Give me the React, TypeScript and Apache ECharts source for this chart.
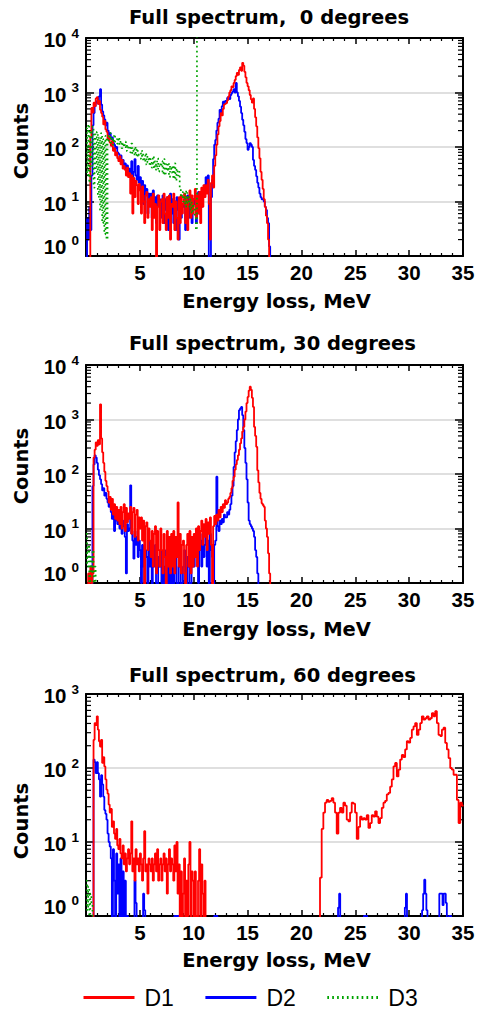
import React, { useEffect, useRef } from "react";
import * as echarts from "echarts";

// ---------------- data (counts per energy bin) ----------------
const BIN_WIDTH = 0.1; // MeV
const X_MIN = 0;
const X_MAX = 35;
const X_INTERVAL = 5;
const legendNames = ["D1", "D2", "D3"];
const panelTitles = [
  "Full spectrum,  0 degrees",
  "Full spectrum, 30 degrees",
  "Full spectrum, 60 degrees",
];
const yMaxValues = [10000, 10000, 1000];
const logMinorMultipliers = [2, 3, 4, 5, 6, 7, 8, 9];

// ---- panel 1 : 0 degrees ----
const p1D1Start = 0.3;
const p1D1 = [
  0, 150, 520, 430, 650, 560, 780,
  820, 620, 700, 480, 420, 360, 260, 300, 210, 190,
  140, 160, 120, 105, 130, 85, 95, 70, 80, 62,
  55, 68, 48, 58, 40, 45, 38, 30, 42, 28,
  33, 14, 30, 6, 27, 12, 24, 20, 9, 21,
  16, 6, 19, 10, 4, 13, 15, 5, 11, 8,
  12, 3, 14, 5, 9, 0, 8, 13, 3, 10,
  11, 4, 14, 6, 3, 12, 5, 13, 2, 9,
  8, 14, 3, 10, 5, 2, 12, 4, 13, 6,
  9, 14, 4, 12, 3, 10, 16, 5, 13, 6,
  11, 17, 5, 13, 6, 15, 4, 18, 8, 20,
  12, 20, 14, 25, 9, 2, 22, 30, 18, 45,
  70, 110, 170, 240, 300, 420, 380, 500, 600, 620,
  640, 720, 840, 1000, 1100, 1300, 1250, 1500, 1700, 2000,
  2300, 2100, 2600, 2900, 2500, 3500, 3100, 2400, 1900, 1500,
  1300, 1100, 900, 750, 650, 780, 500, 350, 240, 150,
  95, 62, 35, 25, 17, 11, 8, 5.5, 4, 2,
  0,
];
const p1D2Start = 0.0;
const p1D2 = [
  0, 5, 2, 8, 3, 30, 250, 420, 560, 650,
  700, 620, 850, 1150, 600, 450, 380, 320, 250, 280,
  200, 170, 180, 140, 150, 120, 110, 95, 100, 80,
  75, 60, 70, 52, 58, 45, 50, 40, 46, 35,
  40, 32, 55, 28, 35, 60, 30, 25, 45, 22,
  28, 12, 24, 9, 20, 13, 17, 6, 14, 10,
  14, 5, 16, 8, 12, 4, 13, 9, 11, 5,
  10, 13, 4, 11, 7, 12, 3, 9, 14, 6,
  11, 4, 10, 3, 12, 7, 2, 10, 5, 9,
  8, 11, 3, 10, 13, 5, 9, 12, 4, 11,
  9, 13, 4, 11, 15, 6, 12, 8, 14, 17,
  20, 28, 15, 30, 0, 0, 12, 25, 60, 110,
  135, 200, 280, 330, 480, 420, 560, 680, 620, 700,
  680, 800, 840, 760, 900, 980, 1050, 1150, 1000, 1500,
  1000, 850, 700, 550, 420, 316, 250, 190, 140, 118,
  89, 100, 118, 110, 100, 58, 45, 38, 29, 22,
  18, 14, 12, 11, 11, 10, 8, 7, 5, 4,
  1.5, 0,
];
const p1D3Start = 0.0;
const p1D3 = [
  220, 30, 260, 22, 200, 45, 240, 18, 170, 35,
  190, 12, 150, 7, 180, 4, 140, 2.5, 160, 2,
  160, 130, 180, 120, 150, 110, 170, 125, 140, 115,
  150, 110, 130, 95, 120, 100, 125, 85, 110, 90,
  105, 80, 115, 75, 95, 70, 100, 65, 85, 72,
  78, 60, 85, 55, 70, 48, 75, 52, 65, 45,
  60, 42, 68, 40, 55, 38, 62, 35, 50, 44,
  55, 32, 60, 30, 48, 36, 52, 28, 45, 34,
  46, 26, 50, 24, 40, 30, 35, 18, 12, 15,
  10, 14, 8, 16, 9, 12, 7, 11, 6, 9,
  8, 5, 3, 50000,
];

// ---- panel 2 : 30 degrees ----
const p2D1Start = 0.1;
const p2D1 = [
  0, 1.5, 1, 2, 1, 1.5, 200, 280, 380, 330,
  420, 350, 1900, 450, 250, 160, 110, 75, 60,
  48, 30, 38, 22, 35, 18, 28, 15, 25, 14,
  22, 12, 25, 10, 20, 28, 9, 24, 13, 19,
  15, 25, 8, 20, 24, 7, 18, 22, 6, 16,
  10, 16, 6, 14, 0, 11, 13, 4, 10, 6,
  3, 9, 2, 8, 11, 1.5, 9, 4, 2, 10,
  4, 1.5, 8, 3, 0, 9, 2, 7, 1.5, 8,
  2, 9, 1.5, 7, 3, 30, 2, 8, 1.5, 5,
  6, 1.5, 0, 5, 8, 2, 9, 1.5, 7, 2,
  8, 3, 10, 2, 11, 4, 9, 14, 5, 12,
  7, 15, 4, 13, 8, 16, 5, 0, 11, 17,
  12, 18, 14, 22, 16, 25, 20, 28, 24, 33,
  28, 30, 35, 38, 45, 55, 75, 89, 120, 150,
  180, 220, 280, 365, 450, 600, 730, 1000, 1400, 2000,
  2600, 3400, 4000, 3500, 2500, 1700, 730, 500, 315, 117,
  70, 45, 35, 29, 27, 25, 14, 10, 7, 3.5,
  1.5, 0,
];
const p2D2Start = 0.5;
const p2D2 = [
  0, 60, 150, 220, 200,
  160, 120, 95, 80, 65, 50, 55, 40, 45, 35,
  30, 25, 28, 20, 15, 22, 9, 18, 14, 12,
  16, 10, 13, 8, 11, 14, 7, 1.5, 12, 9,
  10, 62, 8, 6, 2.8, 9, 5, 7, 3, 6,
  4, 1, 5, 2, 0, 4, 3, 1, 6, 2,
  3, 0, 4, 2, 5, 1, 0, 3, 2, 4,
  1, 3, 0, 2, 4, 1, 3, 0, 2, 1,
  3, 0, 2, 4, 1, 0, 2, 3, 0, 1,
  2, 4, 1, 0, 3, 2, 0, 1, 3, 2,
  2, 5, 3, 7, 1, 4, 6, 2, 8, 3,
  5, 7, 2, 6, 0, 8, 4, 3, 0, 5,
  6, 89, 11, 9, 14, 12, 15, 13, 18, 16,
  16, 20, 18, 22, 28, 40, 60, 135, 250, 400,
  640, 1000, 1480, 1600, 1700, 1200, 640, 300, 160, 80,
  30, 14, 12, 11, 10, 9, 7, 4, 3, 1.5,
  0,
];
const p2D3Start = 0.0;
const p2D3 = [8, 2, 5, 1, 3, 1.5, 4, 1, 2, 0];

// ---- panel 3 : 60 degrees ----
const p3D1LowStart = 0.6;
const p3D1Low = [
  0, 240, 405, 380,
  500, 330, 230, 195, 240, 117, 140, 105, 70, 51,
  45, 32, 25, 28, 16, 19, 13, 11, 15, 9,
  8, 11, 7, 6, 9, 5, 7, 4, 6, 8,
  5, 7, 19, 4, 6, 3, 8, 5, 6, 4,
  7, 5, 3, 6, 14, 4, 5, 2, 6, 5,
  4, 6, 3, 5, 7, 4, 8, 3, 5, 6,
  3, 5, 7, 4, 6, 2, 5, 8, 4, 6,
  5, 3, 9, 4, 10, 2, 5, 0, 4, 0,
  2, 6, 0, 3, 1, 5, 10, 0, 4, 3,
  0, 4, 1, 0, 3, 8, 0, 5, 2, 0,
  3, 0,
];
const p3D1HighStart = 21.57;
const p3D1HighBin = 0.155;
const p3D1High = [
  0, 3.3, 15, 25, 34, 37, 35, 36, 39, 34, 25, 13, 25, 29, 25, 34, 31, 20, 19, 25,
  34, 33, 25, 11, 16, 22, 20, 21, 20, 23, 15.5, 18, 23, 22, 26, 22, 18, 21, 29, 34,
  36, 44, 46, 56, 70, 105, 117, 77, 95, 130, 150, 140, 178, 230, 220, 255, 330, 365, 405, 280,
  330, 405, 500, 450, 470, 500, 450, 470, 550, 500, 585, 405, 280, 270, 330, 350, 218, 178, 136, 100,
  95, 81, 81, 37, 18, 34, 31, 31,
];
const p3D2Start = 0.6;
const p3D2 = [
  0, 130, 120, 85,
  120, 85, 70, 41, 80, 60, 41, 27, 24, 20,
  13, 10, 8.7, 6, 0, 8, 3, 0, 7, 2,
  5, 0, 6, 1, 4, 0, 3, 0, 1, 0,
  0, 0, 0, 0, 0, 3, 1.5, 0, 0, 0,
  0, 0, 0, 2, 1.2, 0, 0,
];
const p3D2SegA = [1, 1, 1, 1, 1, 0]; // from 8.2 MeV
const p3D2SegB = [1, 1, 1, 0]; // from 11.9 MeV
const p3D2SegC = [0, 1.3, 2, 0]; // from 23.3 MeV
const p3D2SegD = [1, 1, 1, 0]; // from 25.8 MeV
const p3D2SegE = [0, 1.3, 2, 0]; // from 29.5 MeV
const p3D2SegF = [0, 1.2, 2, 3.1, 2, 1.2, 0]; // from 31.1 MeV
const p3D2SegG = [2, 2, 2, 1.4, 2, 2, 1.5, 0]; // from 32.8 MeV
const p3D2SegH = [1, 1, 0]; // from 33.7 MeV
const p3D2SegStarts = [8.2, 11.9, 23.3, 25.8, 29.5, 31.1, 32.8, 33.7];
const p3D3Start = 0.0;
const p3D3 = [3, 1.2, 2.5, 1, 2, 1.5, 0];

// ---------------- helpers ----------------
const FLOOR = 0.3; // empty bins drop below the log axis (clipped)
function hist(start: number, values: number[], bin = BIN_WIDTH): [number, number][] {
  return values.map((v, i) => [Math.round((start + i * bin) * 1000) / 1000, v > 0 ? v : FLOOR]);
}

const RED = "#ff0000";
const BLUE = "#0000ff";
const GREEN = "#00a300";
const LINE_W = 1.8;

const PLOT_LEFT = 86;
const PLOT_WIDTH = 377;
const layout = [
  { top: 38, height: 218, titleY: 17, nameY: 301, countsY: 141 },
  { top: 365, height: 218, titleY: 343, nameY: 629, countsY: 466 },
  { top: 694, height: 222, titleY: 675, nameY: 960, countsY: 821 },
];

const panelData = [
  {
    d1: hist(p1D1Start, p1D1),
    d2: hist(p1D2Start, p1D2),
    d3: hist(p1D3Start, p1D3),
  },
  {
    d1: hist(p2D1Start, p2D1),
    d2: hist(p2D2Start, p2D2),
    d3: hist(p2D3Start, p2D3),
  },
  {
    d1: [...hist(p3D1LowStart, p3D1Low), ...hist(p3D1HighStart, p3D1High, p3D1HighBin)],
    d2: [
      ...hist(p3D2Start, p3D2),
      ...[p3D2SegA, p3D2SegB, p3D2SegC, p3D2SegD, p3D2SegE, p3D2SegF, p3D2SegG, p3D2SegH].flatMap(
        (seg, k) => hist(p3D2SegStarts[k], seg)
      ),
    ],
    d3: hist(p3D3Start, p3D3),
  },
];

const tickFont = { fontFamily: "Liberation Sans", fontWeight: "bold" as const, color: "#000" };
const axisLineStyle = { color: "#000", width: 2 };

function buildOption(): any {
  const grid: any[] = [];
  const xAxis: any[] = [];
  const yAxis: any[] = [];
  const series: any[] = [];
  const graphic: any[] = [];

  layout.forEach((L, i) => {
    const yMax = yMaxValues[i];
    grid.push({ left: PLOT_LEFT, width: PLOT_WIDTH, top: L.top, height: L.height });

    const xCommon = {
      gridIndex: i,
      type: "value",
      min: X_MIN,
      max: X_MAX,
      interval: X_INTERVAL,
      axisLine: { onZero: false, lineStyle: axisLineStyle },
      axisTick: { inside: true, length: 6, lineStyle: { color: "#000", width: 1.5 } },
      minorTick: { show: true, splitNumber: 5, length: 3, lineStyle: { color: "#000", width: 1.2 } },
      splitLine: { show: false },
    };
    xAxis.push({
      ...xCommon,
      position: "bottom",
      axisLabel: {
        ...tickFont,
        fontSize: 20.5,
        margin: 6,
        formatter: (v: number) => (v === 0 ? "" : String(v)),
      },
    });
    xAxis.push({ ...xCommon, position: "top", axisLabel: { show: false } });

    const yCommon = {
      gridIndex: i,
      type: "log",
      logBase: 10,
      min: 1,
      max: yMax,
      axisLine: { onZero: false, lineStyle: axisLineStyle },
      axisTick: { inside: true, length: 8, lineStyle: { color: "#000", width: 1.5 } },
    };
    yAxis.push({
      ...yCommon,
      position: "left",
      splitLine: { show: true, lineStyle: { color: "#d4d4d4", width: 1.5 } },
      axisLabel: {
        margin: 7,
        showMinLabel: true,
        showMaxLabel: true,
        formatter: (v: number) => {
          const e = Math.round(Math.log10(v));
          if (Math.abs(v - Math.pow(10, e)) > 1e-6 * v) return "";
          return e === 0 ? `{b|10}{s|${e}}\n{g| }` : `{b|10}{s|${e}}`;
        },
        rich: {
          b: { ...tickFont, fontSize: 20.5, lineHeight: 24, verticalAlign: "bottom" },
          s: { ...tickFont, fontSize: 13.5, lineHeight: 13, verticalAlign: "top", padding: [0, 0, 0, 5] },
          g: { fontSize: 10, lineHeight: 22 },
        },
      },
    });
    yAxis.push({ ...yCommon, position: "right", axisLabel: { show: false }, splitLine: { show: false } });

    // minor logarithmic ticks on the left and right frame
    const decades: number[] = [];
    for (let d = 1; d < yMax; d *= 10) decades.push(d);
    const minorVals = decades.flatMap((d) => logMinorMultipliers.map((m) => m * d));
    series.push({
      type: "custom",
      xAxisIndex: 2 * i,
      yAxisIndex: 2 * i,
      silent: true,
      clip: false,
      z: 3,
      data: minorVals.map((v) => [X_MIN, v]),
      renderItem: (_p: any, api: any) => {
        const v = api.value(1);
        const l = api.coord([X_MIN, v]);
        const r = api.coord([X_MAX, v]);
        const style = { stroke: "#000", lineWidth: 1.2 };
        return {
          type: "group",
          children: [
            { type: "line", shape: { x1: l[0], y1: l[1], x2: l[0] + 5, y2: l[1] }, style },
            { type: "line", shape: { x1: r[0] - 5, y1: r[1], x2: r[0], y2: r[1] }, style },
          ],
        };
      },
    });

    const D = panelData[i];
    const lineBase = {
      type: "line",
      xAxisIndex: 2 * i,
      yAxisIndex: 2 * i,
      step: "end",
      symbol: "none",
      showSymbol: false,
      clip: true,
      animation: false,
    };
    series.push({ ...lineBase, name: "D2", data: D.d2, z: 2, lineStyle: { color: BLUE, width: LINE_W }, itemStyle: { color: BLUE } });
    series.push({ ...lineBase, name: "D1", data: D.d1, z: 3, lineStyle: { color: RED, width: LINE_W }, itemStyle: { color: RED } });
    series.push({
      ...lineBase,
      name: "D3",
      data: D.d3,
      z: 4,
      lineStyle: { color: GREEN, width: 1.7, type: [1.7, 3.2] },
      itemStyle: { color: GREEN },
    });

    graphic.push({
      type: "text",
      x: 129,
      y: L.titleY,
      style: { text: panelTitles[i], fill: "#000", font: 'bold 19.5px "DejaVu Sans"', textAlign: "left", textVerticalAlign: "middle" },
    });
    graphic.push({
      type: "text",
      x: 276.5,
      y: L.nameY,
      style: { text: "Energy loss, MeV", fill: "#000", font: 'bold 19.5px "DejaVu Sans"', textAlign: "center", textVerticalAlign: "middle" },
    });
    graphic.push({
      type: "text",
      x: 21,
      y: L.countsY,
      rotation: Math.PI / 2,
      style: { text: "Counts", fill: "#000", font: 'bold 19.5px "DejaVu Sans"', textAlign: "center", textVerticalAlign: "middle" },
    });
  });

  return {
    animation: false,
    backgroundColor: "#fff",
    grid,
    xAxis,
    yAxis,
    series,
    graphic,
    legend: {
      data: legendNames,
      left: 77,
      top: 981,
      itemWidth: 51,
      itemHeight: 14,
      itemGap: 30,
      itemStyle: { opacity: 0 },
      lineStyle: { width: 3 },
      textStyle: { fontFamily: "Liberation Sans", fontSize: 23, color: "#000", padding: [0, 0, 0, 5] },
    },
  };
}

export default function App() {
  const ref = useRef<HTMLDivElement>(null);
  useEffect(() => {
    if (!ref.current) return;
    const chart = echarts.init(ref.current, undefined, { renderer: "svg" });
    chart.setOption(buildOption());
    return () => chart.dispose();
  }, []);
  return (
    <div
      ref={ref}
      style={{ position: "absolute", left: 0, top: 0, width: 479, height: 1012, background: "#fff" }}
    />
  );
}
